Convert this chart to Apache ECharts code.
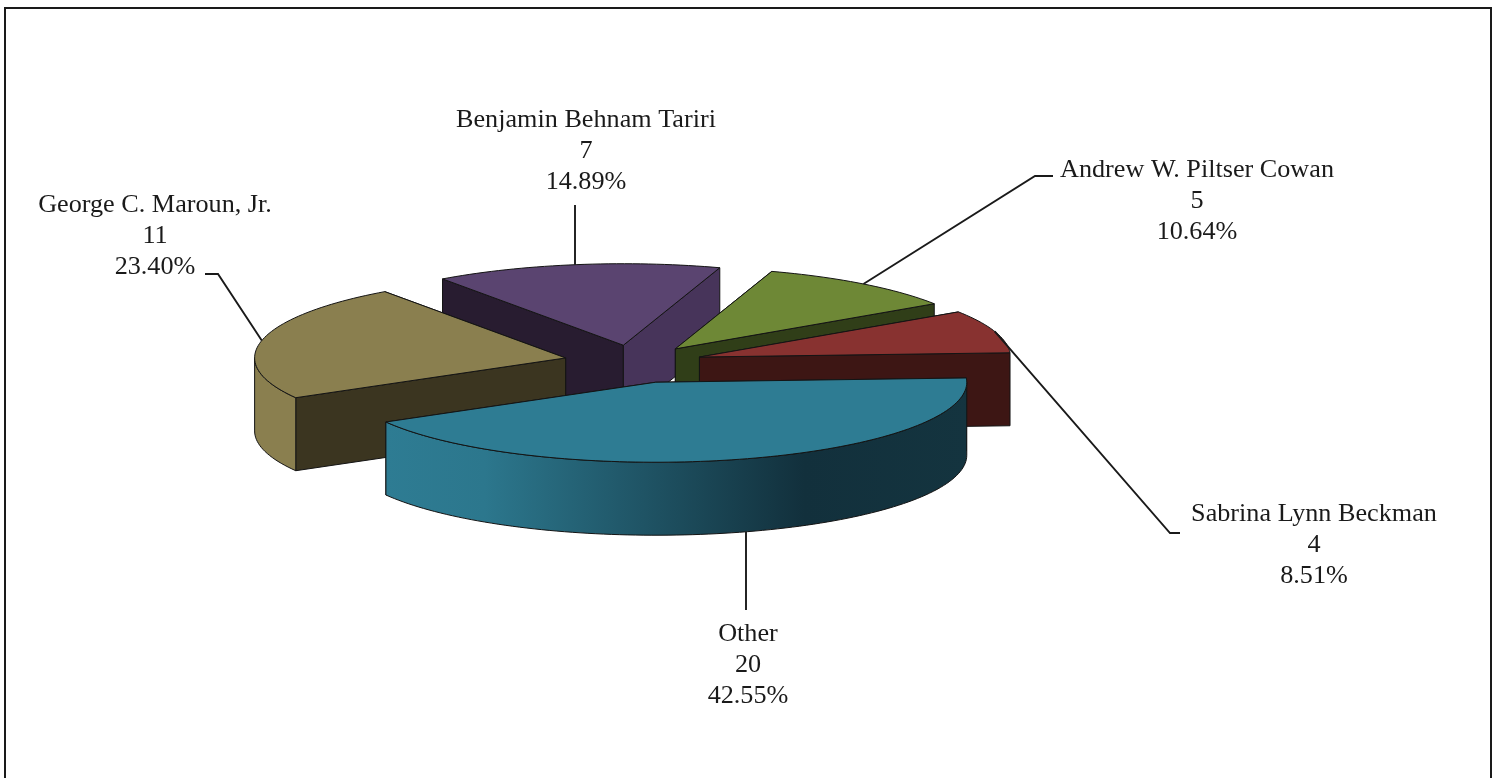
<!DOCTYPE html>
<html>
<head>
<meta charset="utf-8">
<style>html,body{margin:0;padding:0;background:#fff;overflow:hidden}#c{width:1499px;height:778px}</style>
<script src="https://cdn.jsdelivr.net/npm/echarts@6/dist/echarts.min.js"></script>
</head>
<body>
<div id="c"></div>
<script>
// Data (pie order, clockwise from the start angle)
const names = ['Other', 'George C. Maroun, Jr.', 'Benjamin Behnam Tariri', 'Andrew W. Piltser Cowan', 'Sabrina Lynn Beckman'];
const values = [20, 11, 7, 5, 4];

// Styling per slice
const topColors  = ['#2E7C93', '#8A7F4F', '#5A4470', '#6E8836', '#883230'];
const cutColors  = ['#12303C', '#3B3520', '#281C30', '#303E18', '#3D1614'];
const cutLight   = ['#12303C', '#3B3520', '#47345A', '#303E18', '#3D1614'];
const labelAnchor = [[748, 634], [155, 205], [586, 120], [1197, 170], [1314, 514]];
const leaderRoute = [
  [[746, 610]],
  [[218, 274], [205, 274]],
  [[575, 205]],
  [[1035, 176], [1053, 176]],
  [[1170, 533], [1180, 533]]
];
const nudge = [[2, 0], [0, -2], [0, 0], [-1, 0], [-1, -1]];
const drawOrder = [2, 3, 4, 1, 0];

// 3D projection settings
const CX = 634, CY = 364, RX = 311, RY = 80, RY_BACK = 81.5, DEPTH = 73, EX = 70, EY = 19, START = -3;

const total = values.reduce((a, b) => a + b, 0);
const rad = d => d * Math.PI / 180;
let acc = START;
const slices = values.map((v, i) => {
  const s = acc, e = acc + v / total * 360; acc = e;
  const m = (s + e) / 2;
  return { i, s, e, m,
    cx: CX + EX * Math.cos(rad(m)) + nudge[i][0],
    cy: CY + EY * Math.sin(rad(m)) + nudge[i][1] };
});
const rim = (sl, a, d) => {
  const sn = Math.sin(rad(a));
  return [sl.cx + RX * Math.cos(rad(a)), sl.cy + (sn < 0 ? RY_BACK : RY) * sn + (d || 0)];
};
const arc = (sl, a, b, d) => {
  const pts = [], n = Math.max(2, Math.ceil(Math.abs(b - a) / 1.5));
  for (let k = 0; k <= n; k++) pts.push(rim(sl, a + (b - a) * k / n, d));
  return pts;
};
const edge = { stroke: '#141414', lineWidth: 1, lineJoin: 'round' };
const poly = (points, fill) => ({ type: 'polygon', shape: { points }, style: Object.assign({ fill }, edge) });

function cutWall(sl, a, fill) {
  return poly([[sl.cx, sl.cy], rim(sl, a), rim(sl, a, DEPTH), [sl.cx, sl.cy + DEPTH]], fill);
}
function outerFill(i) {
  if (i !== 0) return topColors[i];
  return new echarts.graphic.LinearGradient(0, 0, 1, 0, [
    { offset: 0, color: '#2E7C93' }, { offset: 0.17, color: '#2C778D' },
    { offset: 0.72, color: '#12303C' }, { offset: 1, color: '#14343F' }
  ]);
}
function renderSlice(params) {
  const sl = slices[drawOrder[params.dataIndex]], i = sl.i, kids = [];
  const startVisible = -Math.cos(rad(sl.s)) > 0, endVisible = Math.cos(rad(sl.e)) > 0;
  // hidden cut walls first, then those facing the viewer
  if (!startVisible) kids.push(cutWall(sl, sl.s, cutColors[i]));
  if (!endVisible) kids.push(cutWall(sl, sl.e, cutColors[i]));
  if (startVisible) kids.push(cutWall(sl, sl.s, cutColors[i]));
  if (endVisible) kids.push(cutWall(sl, sl.e, cutLight[i]));
  // outer wall: only the part of the rim on the near side
  const a = Math.max(sl.s, 0), b = Math.min(sl.e, 180);
  if (b > a) {
    kids.push(poly(arc(sl, a, b).concat(arc(sl, b, a, DEPTH)), outerFill(i)));
  }
  // top face
  kids.push(poly([[sl.cx, sl.cy]].concat(arc(sl, sl.s, sl.e)), topColors[i]));
  return { type: 'group', children: kids };
}
function renderLabel(params) {
  const sl = slices[params.dataIndex], i = sl.i;
  const near = Math.sin(rad(sl.m)) > 0.9;
  const start = rim(sl, sl.m, near ? DEPTH : 0);
  const route = leaderRoute[i];
  if (route.length === 1) start[0] = route[0][0];   // single-leg leaders are vertical
  const pct = (values[i] / total * 100).toFixed(2) + '%';
  return { type: 'group', children: [
    { type: 'polyline', shape: { points: [start].concat(route) },
      style: { stroke: '#1a1a1a', lineWidth: 1.9, fill: null } },
    { type: 'text', x: labelAnchor[i][0], y: labelAnchor[i][1] - 15,
      style: { text: names[i] + '\n' + values[i] + '\n' + pct, align: 'center', verticalAlign: 'top',
        font: '26.2px "Liberation Serif"', lineHeight: 31, fill: '#1a1a1a' } }
  ]};
}

const chart = echarts.init(document.getElementById('c'), null, { renderer: 'canvas' });
chart.setOption({
  animation: false,
  backgroundColor: '#fff',
  graphic: [{ type: 'polyline', silent: true,
    shape: { points: [[5, 790], [5, 8], [1491, 8], [1491, 790]] },
    style: { stroke: '#1a1a1a', lineWidth: 2, fill: null } }],
  series: [
    { type: 'custom', coordinateSystem: 'none', silent: true, renderItem: renderSlice,
      data: drawOrder.map(k => values[k]), z: 2 },
    { type: 'custom', coordinateSystem: 'none', silent: true, renderItem: renderLabel,
      data: values, z: 3 }
  ]
});
</script>
</body>
</html>
